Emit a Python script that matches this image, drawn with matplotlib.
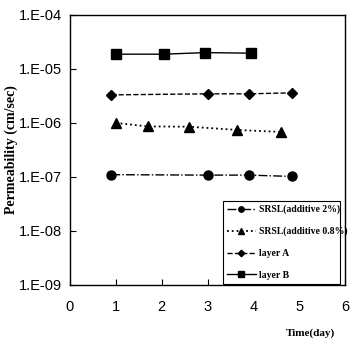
import numpy as np
import matplotlib
matplotlib.use("Agg")
import matplotlib.pyplot as plt
from matplotlib.ticker import FixedLocator, FixedFormatter

# data
days_2pct = [0.9, 3.0, 3.9, 4.85]
perm_2pct = [1.1e-7, 1.08e-7, 1.08e-7, 1.02e-7]

days_08pct = [1.0, 1.7, 2.6, 3.65, 4.6]
perm_08pct = [1.0e-6, 8.6e-7, 8.5e-7, 7.4e-7, 6.8e-7]

days_layerA = [0.9, 3.0, 3.9, 4.85]
perm_layerA = [3.3e-6, 3.45e-6, 3.45e-6, 3.6e-6]

days_layerB = [1.0, 2.05, 2.95, 3.95]
perm_layerB = [1.87e-5, 1.87e-5, 2.0e-5, 1.95e-5]

x_ticks = [0, 1, 2, 3, 4, 5, 6]
y_ticks = [1e-9, 1e-8, 1e-7, 1e-6, 1e-5, 1e-4]
y_tick_labels = ["1.E-09", "1.E-08", "1.E-07", "1.E-06", "1.E-05", "1.E-04"]

serif = "Liberation Serif"
sans = "Liberation Sans"

fig = plt.figure(figsize=(3.5, 3.45), dpi=100)
ax = fig.add_axes([0.2, 0.174, 0.786, 0.783])

ax.plot(days_2pct, perm_2pct, color="black", linestyle="-.", linewidth=1,
        marker="o", markersize=6.5, label="SRSL(additive 2%)")
ax.plot(days_08pct, perm_08pct, color="black", linestyle=":", linewidth=1.3,
        marker="^", markersize=7, label="SRSL(additive 0.8%)")
ax.plot(days_layerA, perm_layerA, color="black", linestyle="--", linewidth=1,
        marker="D", markersize=5.5, label="layer A")
ax.plot(days_layerB, perm_layerB, color="black", linestyle="-", linewidth=1,
        marker="s", markersize=7.5, label="layer B")

ax.set_yscale("log")
ax.set_ylim(1e-9, 1e-4)
ax.set_xlim(0, 6)
ax.yaxis.set_major_locator(FixedLocator(y_ticks))
ax.yaxis.set_major_formatter(FixedFormatter(y_tick_labels))
ax.yaxis.set_minor_locator(FixedLocator([]))
ax.set_xticks(x_ticks)

ax.tick_params(axis="both", direction="in", length=4, width=0.8)
ax.tick_params(axis="y", pad=6)
ax.tick_params(axis="x", pad=11)
for lab in ax.get_xticklabels() + ax.get_yticklabels():
    lab.set_fontfamily(sans)
    lab.set_fontsize(10.5)

for s in ax.spines.values():
    s.set_linewidth(1)

ax.set_ylabel("Permeability (cm/sec)", fontfamily=serif, fontweight="bold",
              fontsize=10)
ax.yaxis.set_label_coords(-0.19, 0.5)
ax.set_xlabel("Time(day)", fontfamily=serif, fontweight="bold", fontsize=8)
ax.xaxis.set_label_coords(0.875, -0.16)

leg = ax.legend(loc="lower left", bbox_to_anchor=(0.555, 0.005, 0.425, 0.345),
                mode="expand", prop={"family": serif, "weight": "bold", "size": 7},
                handlelength=3.0, markerscale=0.6, labelspacing=1.3,
                borderaxespad=0, fancybox=False, edgecolor="black",
                framealpha=1, handletextpad=0.3)
leg.get_frame().set_linewidth(0.8)

fig.savefig("out.png", dpi=100)
